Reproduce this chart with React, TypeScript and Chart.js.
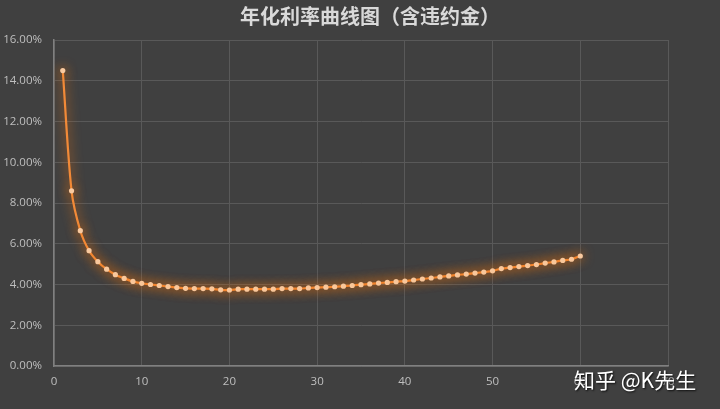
import React, { useEffect, useRef } from 'react';
import { Chart, registerables, Plugin } from 'chart.js';

Chart.register(...registerables);

// 期数 1..60
const periods = Array.from({ length: 60 }, (_, i) => i + 1);

// 年化利率 (%)
const rates = [
  14.5, 8.6, 6.64, 5.66, 5.12, 4.75, 4.48, 4.3, 4.15, 4.06,
  4.0, 3.95, 3.9, 3.85, 3.81, 3.8, 3.8, 3.79, 3.74, 3.73,
  3.77, 3.77, 3.77, 3.77, 3.77, 3.8, 3.8, 3.8, 3.83, 3.85,
  3.87, 3.89, 3.92, 3.95, 3.99, 4.03, 4.07, 4.1, 4.14, 4.17,
  4.22, 4.27, 4.32, 4.37, 4.42, 4.47, 4.51, 4.56, 4.61, 4.67,
  4.78, 4.83, 4.88, 4.93, 4.98, 5.05, 5.11, 5.18, 5.24, 5.4,
];

const titleText = '年化利率曲线图（含违约金）';
const watermark = '知乎 @K先生';

// glow around the line, like Excel's "glow" effect
const glowPlugin: Plugin<'line'> = {
  id: 'glow',
  beforeDatasetsDraw(chart) {
    const ctx = chart.ctx;
    ctx.save();
    ctx.shadowColor = 'rgba(255, 120, 10, 1)';
    ctx.shadowBlur = 12;
  },
  afterDatasetsDraw(chart) {
    chart.ctx.restore();
  },
};

const bgPlugin: Plugin<'line'> = {
  id: 'bg',
  beforeDraw(chart) {
    const ctx = chart.ctx;
    ctx.save();
    ctx.fillStyle = '#404040';
    ctx.fillRect(0, 0, chart.width, chart.height);
    ctx.restore();
  },
};

const App: React.FC = () => {
  const canvasRef = useRef<HTMLCanvasElement>(null);

  useEffect(() => {
    if (!canvasRef.current) return;
    const chart = new Chart(canvasRef.current, {
      type: 'line',
      data: {
        datasets: [{
          label: '年化利率',
          data: periods.map((p, i) => ({ x: p, y: rates[i] })),
          borderColor: '#f28a38',
          borderWidth: 2.2,
          tension: 0.3,
          pointRadius: 2.6,
          pointBackgroundColor: '#f9caa0',
          pointBorderWidth: 0,
          fill: false,
        }],
      },
      options: {
        animation: false,
        responsive: true,
        maintainAspectRatio: false,
        layout: { padding: { left: 0, right: 52, top: 40, bottom: 0 } },
        plugins: {
          legend: { display: false },
          tooltip: { enabled: false },
          title: { display: false },
        },
        scales: {
          x: {
            type: 'linear',
            min: 0,
            max: 70,
            ticks: {
              stepSize: 10,
              color: '#bfbfbf',
              font: { family: '"Open Sans"', size: 11.5 },
              padding: 9,
            },
            grid: { color: '#595959', drawTicks: false },
            border: { color: '#808080', width: 1.5 },
            afterFit(scale) { scale.height = 43; },
          },
          y: {
            min: 0,
            max: 16,
            ticks: {
              stepSize: 2,
              color: '#bfbfbf',
              font: { family: '"Open Sans"', size: 11.5 },
              padding: 12,
              callback: (v) => Number(v).toFixed(2) + '%',
            },
            grid: { color: '#595959', drawTicks: false },
            border: { color: '#808080', width: 1.5 },
            afterFit(scale) { scale.width = 54; },
          },
        },
      },
      plugins: [bgPlugin, glowPlugin],
    });
    return () => chart.destroy();
  }, []);

  return (
    <div style={{ position: 'fixed', left: 0, top: 0, width: 720, height: 409, background: '#404040' }}>
      <canvas ref={canvasRef}></canvas>
      <div
        style={{
          position: 'absolute',
          left: 0,
          top: 2,
          width: 740,
          textAlign: 'center',
          fontFamily: '"Noto Sans CJK SC"',
          fontSize: 20,
          fontWeight: 'bold',
          lineHeight: '28px',
          color: '#d9d9d9',
          whiteSpace: 'pre',
        }}
      >
        {titleText}
      </div>
      <div
        style={{
          position: 'absolute',
          left: 574,
          top: 365,
          fontFamily: '"Noto Sans CJK SC"',
          fontSize: 21,
          lineHeight: '28px',
          color: '#ffffff',
          whiteSpace: 'pre',
          textShadow: '1px 1px 2px rgba(0,0,0,0.8)',
        }}
      >
        {watermark}
      </div>
    </div>
  );
};

export default App;
